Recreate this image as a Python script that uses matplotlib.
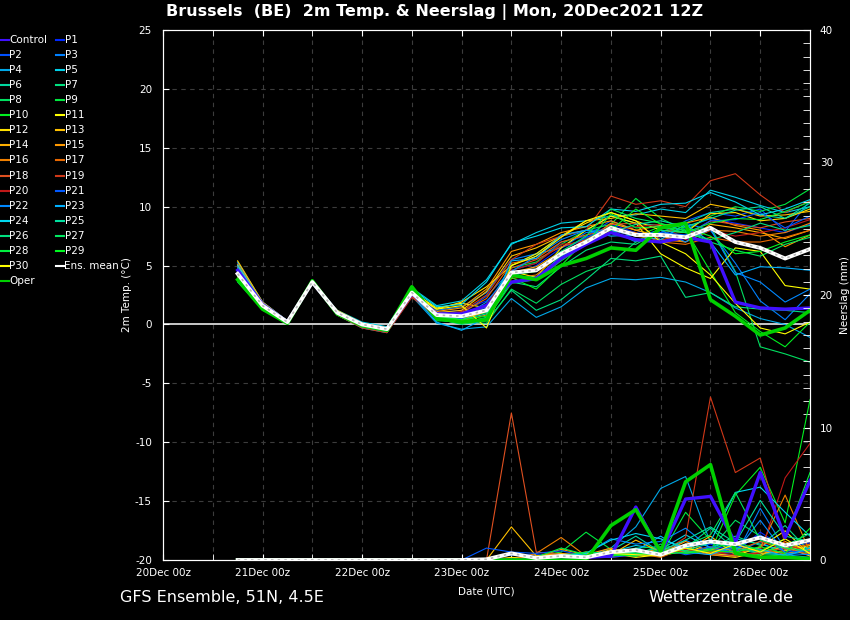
import matplotlib
matplotlib.use("Agg")
import matplotlib.pyplot as plt
from matplotlib.lines import Line2D
from matplotlib.ticker import MultipleLocator

plt.rcParams["axes.unicode_minus"] = False

# --- forecast valid times, hours after 20Dec 00z ---
HOURS = [18, 24, 30, 36, 42, 48, 54, 60, 66, 72, 78, 84,
         90, 96, 102, 108, 114, 120, 126, 132, 138, 144, 150, 156]
DAY_TICKS = [0, 24, 48, 72, 96, 120, 144]
DAY_LABELS = ["20Dec 00z", "21Dec 00z", "22Dec 00z", "23Dec 00z",
              "24Dec 00z", "25Dec 00z", "26Dec 00z"]

# --- 2m temperature (deg C) ---
T_CONTROL = [4.6, 1.7, 0.2, 3.6, 1.0, 0.0, -0.4, 2.6, 0.9, 0.9, 1.6, 3.6, 3.9, 5.6, 6.8, 7.8, 7.2, 7.0, 7.4, 7.0, 1.9, 1.4, 1.3, 1.4]
T_P1 = [5.2, 1.9, 0.3, 3.5, 1.1, 0.1, -0.3, 2.9, 1.0, 1.2, 2.0, 4.0, 5.0, 6.5, 7.3, 8.5, 7.8, 7.5, 8.2, 9.0, 8.6, 8.2, 7.8, 8.5]
T_P2 = [4.9, 1.8, 0.2, 3.6, 1.0, -0.1, -0.5, 2.5, 0.7, 0.9, 2.4, 4.6, 5.2, 7.0, 7.5, 8.8, 8.0, 7.4, 8.8, 9.5, 9.2, 9.8, 7.9, 10.5]
T_P3 = [5.0, 1.7, 0.3, 3.7, 1.1, 0.0, -0.4, 2.8, 1.2, 1.5, 2.7, 5.5, 6.0, 6.5, 7.8, 8.0, 7.0, 7.8, 8.6, 8.0, 5.2, 2.0, 0.4, 2.6]
T_P4 = [3.8, 1.3, 0.1, 3.5, 0.8, -0.3, -0.7, 2.4, 0.1, -0.4, -0.2, 2.2, 0.6, 1.5, 3.1, 3.9, 3.8, 4.0, 3.6, 2.7, 1.4, 0.5, 0.0, -1.1]
T_P5 = [5.3, 1.9, 0.3, 3.6, 1.2, 0.2, -0.2, 3.1, 1.6, 2.0, 3.8, 6.8, 7.8, 8.6, 8.8, 9.2, 9.3, 9.8, 9.5, 11.4, 10.8, 10.1, 9.5, 10.0]
T_P6 = [4.8, 1.6, 0.2, 3.7, 1.0, 0.0, -0.3, 2.7, 0.9, 0.8, 1.5, 5.0, 6.0, 7.5, 8.0, 9.2, 8.6, 8.4, 8.6, 9.5, 9.8, 9.3, 9.0, 10.3]
T_P7 = [3.6, 1.3, 0.1, 3.6, 0.9, -0.1, -0.5, 3.0, 0.5, 0.0, 0.3, 2.9, 1.2, 2.1, 3.8, 5.6, 5.4, 5.8, 2.3, 2.7, 1.5, 1.3, 1.2, 1.0]
T_P8 = [3.9, 1.4, 0.2, 3.7, 0.9, -0.1, -0.5, 3.1, 0.4, 0.2, 0.1, 3.0, 1.8, 3.4, 4.5, 5.2, 7.0, 8.2, 7.8, 8.3, 4.5, -1.9, -2.5, -3.2]
T_P9 = [4.4, 1.6, 0.2, 3.8, 1.0, 0.0, -0.4, 2.9, 0.6, 0.5, 1.0, 4.8, 5.3, 6.8, 8.0, 8.5, 10.7, 9.0, 8.0, 9.2, 10.0, 9.6, 10.2, 11.5]
T_P10 = [4.0, 1.5, 0.2, 3.7, 0.9, -0.1, -0.4, 3.2, 0.3, 0.3, 0.5, 4.2, 4.5, 5.8, 7.0, 8.4, 7.5, 8.3, 8.0, 4.5, 1.0, -0.6, -1.9, 0.2]
T_P11 = [4.1, 1.5, 0.2, 3.6, 1.1, 0.1, -0.3, 2.8, 1.4, 1.8, 1.4, 4.5, 4.0, 6.5, 8.0, 9.2, 8.6, 6.0, 4.8, 3.9, 6.5, 6.2, 3.3, 3.0]
T_P12 = [4.5, 1.6, 0.3, 3.5, 1.2, 0.1, -0.3, 2.6, 1.3, 1.9, 3.2, 5.0, 6.0, 7.5, 8.6, 9.5, 8.8, 8.0, 7.8, 9.4, 9.5, 8.8, 9.0, 9.8]
T_P13 = [5.4, 1.9, 0.3, 3.6, 1.1, 0.1, -0.4, 2.5, 1.0, 1.2, 2.8, 5.8, 6.5, 7.5, 8.8, 9.0, 9.4, 9.2, 9.0, 10.2, 9.8, 9.2, 9.3, 9.6]
T_P14 = [4.7, 1.7, 0.2, 3.6, 1.0, 0.0, -0.4, 2.6, 0.6, 0.4, 1.1, 4.4, 4.9, 6.2, 7.0, 8.6, 8.0, 7.5, 7.0, 8.5, 8.2, 7.8, 7.3, 8.0]
T_P15 = [5.1, 1.8, 0.3, 3.5, 1.0, 0.1, -0.5, 2.4, 1.1, 1.4, 3.0, 6.2, 6.8, 7.8, 8.3, 8.8, 8.0, 8.4, 8.6, 9.1, 8.4, 8.0, 6.6, 7.6]
T_P16 = [4.2, 1.6, 0.2, 3.6, 0.9, -0.2, -0.5, 2.5, 0.5, 0.3, 0.8, 3.9, 4.2, 6.0, 7.2, 8.0, 7.5, 7.2, 7.0, 8.0, 7.9, 7.5, 7.8, 8.6]
T_P17 = [4.9, 1.7, 0.2, 3.5, 1.0, -0.1, -0.6, 2.4, 0.8, 1.0, 2.2, 5.2, 5.6, 7.0, 7.6, 8.0, 7.8, 7.0, 6.8, 7.4, 7.0, 7.0, 7.4, 8.0]
T_P18 = [4.0, 1.5, 0.1, 3.6, 0.9, -0.2, -0.6, 2.5, 0.6, 0.6, 1.3, 4.8, 5.5, 6.6, 7.2, 8.5, 8.6, 7.2, 7.5, 8.8, 8.5, 8.2, 8.7, 9.0]
T_P19 = [3.9, 1.4, 0.2, 3.5, 0.8, -0.3, -0.7, 2.3, 0.7, 1.1, 2.5, 5.5, 6.8, 7.5, 8.0, 10.9, 10.2, 10.5, 10.0, 12.2, 12.8, 11.0, 9.5, 10.5]
T_P20 = [4.3, 1.5, 0.2, 3.6, 1.0, -0.2, -0.6, 2.5, 0.8, 0.8, 1.7, 4.6, 5.2, 6.8, 7.0, 8.0, 8.3, 8.5, 7.2, 8.0, 7.5, 7.8, 8.2, 8.9]
T_P21 = [4.6, 1.6, 0.2, 3.6, 1.0, 0.0, -0.4, 2.7, 0.7, 0.5, 1.4, 4.2, 4.6, 6.2, 7.4, 8.2, 7.6, 7.8, 7.6, 8.8, 8.9, 9.5, 8.2, 9.2]
T_P22 = [4.8, 1.7, 0.3, 3.7, 1.1, 0.0, -0.4, 2.8, 0.9, 0.6, 1.9, 4.5, 5.8, 7.2, 8.0, 8.0, 7.5, 8.0, 7.0, 8.1, 4.4, 3.6, 1.9, 3.0]
T_P23 = [3.7, 1.3, 0.1, 3.5, 0.9, -0.2, -0.6, 2.6, 0.2, -0.5, 0.6, 5.4, 5.6, 7.6, 8.0, 7.5, 7.6, 7.2, 8.5, 7.0, 4.2, 4.9, 4.8, 4.6]
T_P24 = [5.0, 1.8, 0.3, 3.7, 1.1, 0.1, -0.3, 3.0, 1.5, 1.7, 3.6, 6.9, 7.5, 8.2, 8.3, 9.8, 9.6, 10.2, 10.3, 11.2, 10.4, 9.3, 9.8, 10.6]
T_P25 = [4.4, 1.6, 0.2, 3.7, 1.0, 0.0, -0.4, 2.9, 0.6, 0.4, 0.9, 4.1, 4.0, 5.8, 6.8, 7.8, 8.5, 8.8, 8.3, 9.0, 9.7, 10.0, 9.0, 10.0]
T_P26 = [3.8, 1.4, 0.1, 3.6, 0.9, -0.1, -0.5, 3.0, 0.4, 0.1, 0.6, 3.6, 3.2, 4.9, 6.3, 7.0, 6.8, 8.0, 7.8, 7.2, 7.8, 8.6, 8.0, 8.4]
T_P27 = [4.5, 1.6, 0.2, 3.8, 1.0, 0.0, -0.4, 3.1, 0.8, 0.6, 1.2, 4.3, 4.6, 6.2, 7.5, 9.8, 9.0, 8.6, 7.9, 7.0, 6.3, 5.8, 6.8, 7.4]
T_P28 = [4.1, 1.5, 0.2, 3.7, 0.9, -0.1, -0.5, 3.2, 0.5, 0.2, 0.4, 3.5, 3.8, 5.4, 6.8, 9.4, 8.2, 8.3, 7.8, 8.6, 9.0, 8.9, 9.6, 10.4]
T_P29 = [4.7, 1.7, 0.2, 3.8, 1.0, 0.0, -0.4, 3.0, 0.7, 0.4, 0.7, 4.0, 3.0, 5.0, 7.2, 8.0, 9.8, 8.5, 8.2, 7.5, 6.0, 6.2, 7.0, 7.6]
T_P30 = [4.2, 1.5, 0.2, 3.6, 1.1, 0.1, -0.3, 2.7, 1.3, 1.6, -0.3, 5.0, 5.8, 7.4, 8.8, 9.5, 8.8, 7.0, 6.0, 4.2, 1.8, -0.3, -0.8, 0.2]
T_OPER = [3.8, 1.3, 0.1, 3.7, 0.9, -0.1, -0.5, 3.2, 0.5, 0.2, 0.4, 4.2, 3.8, 5.0, 5.6, 6.5, 6.3, 8.2, 8.6, 2.1, 0.7, -0.9, -0.3, 1.2]
T_MEAN = [4.3, 1.6, 0.2, 3.6, 1.0, 0.0, -0.4, 2.7, 0.8, 0.7, 1.2, 4.4, 4.6, 6.0, 7.0, 8.2, 7.6, 7.6, 7.4, 8.2, 7.0, 6.5, 5.6, 6.4]

# --- precipitation per 6 h (mm) ---
R_CONTROL = [0, 0, 0, 0, 0, 0, 0, 0, 0, 0, 0, 0, 0, 0.1, 0.2, 0.3, 4.0, 0.5, 4.6, 4.8, 1.3, 6.6, 1.7, 6.0]
R_P1 = [0, 0, 0, 0, 0, 0, 0, 0, 0, 0, 0, 0, 0, 0.2, 0.1, 0.4, 0.6, 0.3, 0.8, 1.2, 0.6, 2.1, 0.9, 1.3]
R_P2 = [0, 0, 0, 0, 0, 0, 0, 0, 0, 0, 0, 0.4, 0.4, 0.3, 0.2, 0.5, 0.3, 0.9, 0.4, 0.7, 0.5, 1.4, 0.3, 0.8]
R_P3 = [0, 0, 0, 0, 0, 0, 0, 0, 0, 0, 0, 0.4, 0.2, 0.5, 0.3, 0.2, 0.9, 0.4, 1.5, 0.6, 0.3, 3.9, 0.8, 0.4]
R_P4 = [0, 0, 0, 0, 0, 0, 0, 0, 0, 0, 0, 0, 0, 0.1, 0.3, 0.9, 2.5, 5.4, 6.3, 1.3, 1.0, 0.5, 0.4, 0.2]
R_P5 = [0, 0, 0, 0, 0, 0, 0, 0, 0, 0, 0, 0, 0.1, 0.2, 0.4, 0.6, 1.1, 0.8, 1.9, 0.9, 1.6, 1.2, 0.7, 1.6]
R_P6 = [0, 0, 0, 0, 0, 0, 0, 0, 0, 0, 0, 0, 0, 0.2, 0.3, 0.7, 1.8, 0.6, 0.9, 2.4, 0.8, 0.5, 0.4, 1.0]
R_P7 = [0, 0, 0, 0, 0, 0, 0, 0, 0, 0, 0, 0, 0.2, 0.3, 0.5, 0.4, 0.3, 1.2, 0.7, 0.9, 1.8, 1.1, 2.6, 0.6]
R_P8 = [0, 0, 0, 0, 0, 0, 0, 0, 0, 0, 0, 0, 0, 0.1, 0.6, 0.4, 0.9, 1.0, 0.6, 0.8, 3.0, 1.8, 0.9, 0.5]
R_P9 = [0, 0, 0, 0, 0, 0, 0, 0, 0, 0, 0, 0, 0.3, 0.6, 2.1, 0.8, 0.4, 0.3, 3.6, 1.5, 0.6, 0.4, 0.3, 0.9]
R_P10 = [0, 0, 0, 0, 0, 0, 0, 0, 0, 0, 0, 0, 0, 0.2, 0.4, 0.3, 0.7, 0.5, 0.9, 0.6, 4.9, 7.0, 2.8, 12.1]
R_P11 = [0, 0, 0, 0, 0, 0, 0, 0, 0, 0, 0, 0, 0, 0.1, 0.3, 0.5, 0.2, 0.4, 1.2, 0.5, 0.3, 1.0, 2.2, 0.4]
R_P12 = [0, 0, 0, 0, 0, 0, 0, 0, 0, 0, 0, 0.2, 0.1, 0.3, 0.2, 0.8, 0.6, 0.3, 1.0, 0.4, 0.2, 0.6, 1.0, 0.3]
R_P13 = [0, 0, 0, 0, 0, 0, 0, 0, 0, 0, 0, 2.5, 0.3, 0.4, 0.5, 0.4, 1.5, 0.6, 0.7, 1.8, 0.4, 0.5, 0.7, 1.1]
R_P14 = [0, 0, 0, 0, 0, 0, 0, 0, 0, 0, 0, 0, 0.3, 0.5, 0.3, 0.6, 0.4, 0.9, 0.5, 0.8, 0.6, 0.3, 1.4, 0.5]
R_P15 = [0, 0, 0, 0, 0, 0, 0, 0, 0, 0, 0, 0, 0.2, 0.8, 0.4, 0.9, 0.3, 0.5, 1.4, 0.6, 0.9, 0.7, 0.5, 0.8]
R_P16 = [0, 0, 0, 0, 0, 0, 0, 0, 0, 0, 0, 0, 0.5, 1.7, 0.3, 0.5, 0.8, 0.4, 0.6, 1.0, 0.5, 0.9, 4.9, 0.6]
R_P17 = [0, 0, 0, 0, 0, 0, 0, 0, 0, 0, 0, 0, 0.1, 0.3, 0.6, 0.3, 0.5, 0.2, 0.9, 0.5, 0.7, 1.4, 0.8, 1.2]
R_P18 = [0, 0, 0, 0, 0, 0, 0, 0, 0, 0, 0, 11.1, 0.6, 0.4, 0.2, 0.3, 0.6, 0.5, 0.7, 0.4, 0.3, 0.6, 0.9, 0.4]
R_P19 = [0, 0, 0, 0, 0, 0, 0, 0, 0, 0, 0, 0, 0, 0.2, 0.1, 0.4, 0.3, 0.5, 1.7, 12.3, 6.6, 7.7, 1.2, 0.6]
R_P20 = [0, 0, 0, 0, 0, 0, 0, 0, 0, 0, 0, 0, 0.1, 0.2, 0.3, 0.2, 0.4, 0.3, 0.8, 0.6, 0.4, 0.5, 6.2, 8.8]
R_P21 = [0, 0, 0, 0, 0, 0, 0, 0, 0, 0, 0.9, 0.6, 0.5, 0.7, 0.3, 0.2, 0.4, 0.6, 0.5, 1.0, 0.8, 1.9, 0.6, 0.7]
R_P22 = [0, 0, 0, 0, 0, 0, 0, 0, 0, 0, 0, 0, 0.2, 0.3, 0.5, 1.6, 1.2, 1.4, 2.4, 0.9, 0.6, 3.0, 0.5, 0.4]
R_P23 = [0, 0, 0, 0, 0, 0, 0, 0, 0, 0, 0, 0, 0.1, 0.2, 0.3, 0.5, 0.7, 1.8, 0.6, 0.4, 1.1, 0.8, 0.3, 0.9]
R_P24 = [0, 0, 0, 0, 0, 0, 0, 0, 0, 0, 0, 0, 0.1, 0.3, 0.5, 1.5, 2.0, 1.6, 0.9, 1.4, 5.1, 5.5, 3.6, 1.8]
R_P25 = [0, 0, 0, 0, 0, 0, 0, 0, 0, 0, 0, 0, 0.2, 0.2, 0.4, 0.6, 0.5, 0.7, 1.5, 2.5, 1.3, 4.5, 1.8, 1.4]
R_P26 = [0, 0, 0, 0, 0, 0, 0, 0, 0, 0, 0, 0, 0.1, 0.4, 0.3, 0.4, 0.6, 0.9, 0.7, 1.3, 0.9, 0.6, 1.1, 2.0]
R_P27 = [0, 0, 0, 0, 0, 0, 0, 0, 0, 0, 0, 0, 0.2, 0.3, 0.6, 0.5, 0.3, 0.6, 1.1, 1.9, 5.1, 1.5, 0.9, 0.7]
R_P28 = [0, 0, 0, 0, 0, 0, 0, 0, 0, 0, 0, 0, 0.2, 0.9, 0.4, 0.3, 0.5, 0.4, 0.6, 0.8, 1.4, 0.7, 1.6, 6.6]
R_P29 = [0, 0, 0, 0, 0, 0, 0, 0, 0, 0, 0, 0, 0, 0.1, 0.2, 0.4, 0.3, 0.8, 0.5, 0.7, 0.6, 1.0, 0.5, 2.4]
R_P30 = [0, 0, 0, 0, 0, 0, 0, 0, 0, 0, 0, 0, 0, 0.1, 0.3, 0.5, 0.4, 0.3, 0.9, 0.5, 1.2, 0.6, 1.6, 0.5]
R_OPER = [0, 0, 0, 0, 0, 0, 0, 0, 0, 0, 0, 0, 0, 0, 0, 2.6, 3.8, 0.6, 5.9, 7.2, 0.5, 0.2, 0.2, 0.1]
R_MEAN = [0, 0, 0, 0, 0, 0, 0, 0, 0, 0, 0.05, 0.5, 0.15, 0.3, 0.2, 0.6, 0.75, 0.4, 1.1, 1.4, 1.2, 1.7, 1.1, 1.5]

# name, colour, temperature, precipitation
members = [
    ("P1", "#0028ff", T_P1, R_P1), ("P2", "#0050ff", T_P2, R_P2),
    ("P3", "#0080ff", T_P3, R_P3), ("P4", "#00a8e8", T_P4, R_P4),
    ("P5", "#00d0e8", T_P5, R_P5), ("P6", "#00d8a0", T_P6, R_P6),
    ("P7", "#00e080", T_P7, R_P7), ("P8", "#00e060", T_P8, R_P8),
    ("P9", "#00e840", T_P9, R_P9), ("P10", "#00f020", T_P10, R_P10),
    ("P11", "#ffff00", T_P11, R_P11), ("P12", "#ffe000", T_P12, R_P12),
    ("P13", "#ffc000", T_P13, R_P13), ("P14", "#ffb000", T_P14, R_P14),
    ("P15", "#ff9800", T_P15, R_P15), ("P16", "#f08000", T_P16, R_P16),
    ("P17", "#e86800", T_P17, R_P17), ("P18", "#e05020", T_P18, R_P18),
    ("P19", "#d03818", T_P19, R_P19), ("P20", "#c01818", T_P20, R_P20),
    ("P21", "#0058ff", T_P21, R_P21), ("P22", "#0088ff", T_P22, R_P22),
    ("P23", "#00b0ff", T_P23, R_P23), ("P24", "#00d8f0", T_P24, R_P24),
    ("P25", "#00e0a0", T_P25, R_P25), ("P26", "#00e080", T_P26, R_P26),
    ("P27", "#00e860", T_P27, R_P27), ("P28", "#00f040", T_P28, R_P28),
    ("P29", "#00f820", T_P29, R_P29), ("P30", "#ffff00", T_P30, R_P30),
]
CONTROL_COL = "#4010ff"
OPER_COL = "#00d000"

fig = plt.figure(figsize=(8.5, 6.2), dpi=100, facecolor="black")
ax = fig.add_axes([163 / 850, 1 - 560 / 620, 647 / 850, 530 / 620])
ax.set_facecolor("black")
ax2 = ax.twinx()

ax.set_xlim(0, 156)
ax.set_ylim(-20, 25)
ax2.set_ylim(0, 40)

# grid
grid_kw = dict(color="#3c3c3c", lw=0.8, ls=(0, (4, 4)), zorder=0)
for h in range(12, 156, 12):
    ax.axvline(h, **grid_kw)
for v in [-15, -10, -5, 5, 10, 15, 20]:
    ax.axhline(v, **grid_kw)
ax.axhline(0, color="white", lw=1.1, zorder=1)

# thin members
for name, col, temp, rain in members:
    ax.plot(HOURS, temp, color=col, lw=0.8, zorder=2)
    ax2.plot(HOURS, rain, color=col, lw=0.8, zorder=2)

# control, oper, mean
ax.plot(HOURS, T_CONTROL, color=CONTROL_COL, lw=2.4, zorder=3)
ax2.plot(HOURS, R_CONTROL, color=CONTROL_COL, lw=2.4, zorder=3)
ax.plot(HOURS, T_OPER, color=OPER_COL, lw=2.6, zorder=4)
ax2.plot(HOURS, R_OPER, color=OPER_COL, lw=2.6, zorder=4)
ax.plot(HOURS, T_MEAN, color="white", lw=2.8, zorder=5)
ax.plot(HOURS, T_MEAN, color="#b8b8b8", lw=1.2, ls=(0, (1.5, 2.5)), zorder=6)
ax2.plot(HOURS, R_MEAN, color="white", lw=2.8, zorder=5)
ax2.plot(HOURS, R_MEAN, color="#b8b8b8", lw=1.2, ls=(0, (1.5, 2.5)), zorder=6)

# axes styling
for a in (ax, ax2):
    for s in a.spines.values():
        s.set_color("white")
        s.set_linewidth(0.8)
ax.set_xticks(DAY_TICKS)
ax.set_xticklabels(DAY_LABELS)
ax.xaxis.set_minor_locator(MultipleLocator(12))
ax.yaxis.set_major_locator(MultipleLocator(5))
ax.tick_params(axis="x", which="both", direction="in", top=True, length=4,
               color="white", labelcolor="white", labelsize=7.5, pad=6)
ax.tick_params(axis="y", direction="in", length=4, color="white",
               labelcolor="white", labelsize=7.5, pad=8)
ax2.yaxis.set_major_locator(MultipleLocator(10))
ax2.yaxis.set_minor_locator(MultipleLocator(1))
ax2.tick_params(axis="y", which="both", direction="in", length=5, color="white",
                labelcolor="white", labelsize=7.5, pad=7)

ax.set_xlabel("Date (UTC)", color="white", fontsize=7.5, labelpad=6)
ax.set_ylabel("2m Temp. (°C)", color="white", fontsize=7.5)
ax.yaxis.set_label_coords((132 - 163) / 647, 0.5)
ax2.set_ylabel("Neerslag (mm)", color="white", fontsize=7.5)
ax2.yaxis.set_label_coords((840 - 163) / 647, 0.5)

fig.text(435 / 850, 1 - 12 / 620, "Brussels  (BE)  2m Temp. & Neerslag | Mon, 20Dec2021 12Z",
         color="white", fontsize=11.5, fontweight="bold", ha="center", va="center")
fig.text(120 / 850, 1 - 598 / 620, "GFS Ensemble, 51N, 4.5E", color="white",
         fontsize=11.5, ha="left", va="center")
fig.text(793 / 850, 1 - 598 / 620, "Wetterzentrale.de", color="white",
         fontsize=11.5, ha="right", va="center")

# legend, drawn row by row like the original
legend_items = [("Control", CONTROL_COL)] + [(m[0], m[1]) for m in members] + \
               [("Ens. mean", "white"), ("Oper", OPER_COL)]
for i, (name, col) in enumerate(legend_items):
    row, c = divmod(i, 2)
    y = 1 - (40 + 15.06 * row) / 620
    x0 = 0 if c == 0 else 55
    fig.add_artist(Line2D([(x0 + 1) / 850, (x0 + 9) / 850], [y, y],
                          color=col, lw=1.5, transform=fig.transFigure))
    fig.text((x0 + 9.5) / 850, y, name, color="white", fontsize=7.5,
             ha="left", va="center")

fig.savefig("out.png", dpi=100, facecolor="black")
